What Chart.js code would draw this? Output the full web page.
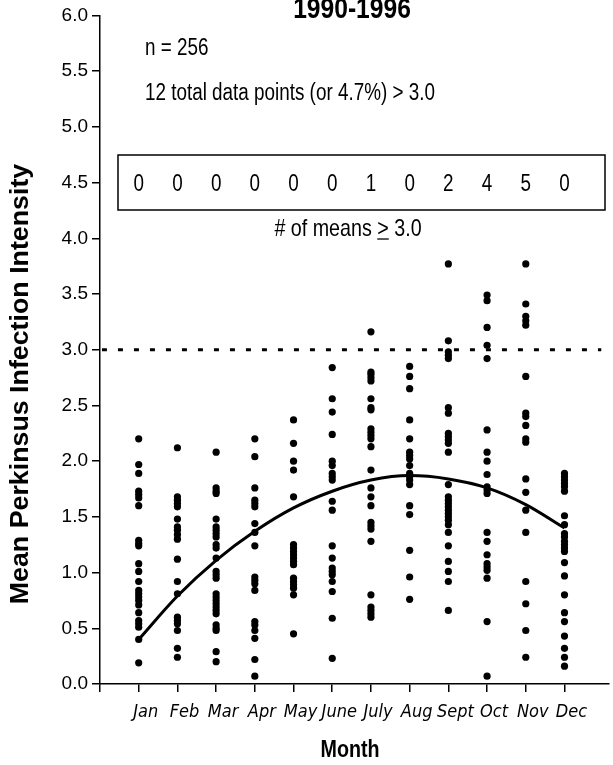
<!DOCTYPE html>
<html>
<head>
<meta charset="utf-8">
<script src="https://cdn.jsdelivr.net/npm/chart.js@4/dist/chart.umd.min.js"></script>
<style>
  html, body { margin: 0; padding: 0; background: #fff; }
  #wrap { width: 613px; height: 765px; }
</style>
</head>
<body>
<div id="wrap"><canvas id="chart" width="613" height="765"></canvas></div>
<script>
// ====== DATA ======
const months = ['Jan', 'Feb', 'Mar', 'Apr', 'May', 'June', 'July', 'Aug', 'Sept', 'Oct', 'Nov', 'Dec'];

// mean Perkinsus infection intensity, one array per month
const jan  = [2.20, 1.97, 1.89, 1.73, 1.70, 1.67, 1.60, 1.29, 1.26, 1.24, 1.08, 1.01, 0.92, 0.84, 0.81, 0.78, 0.75, 0.71, 0.64, 0.57, 0.54, 0.51, 0.40, 0.19];
const feb  = [2.12, 1.68, 1.65, 1.62, 1.59, 1.48, 1.41, 1.38, 1.34, 1.30, 1.12, 0.92, 0.81, 0.60, 0.57, 0.54, 0.48, 0.32, 0.24];
const mar  = [2.08, 1.76, 1.73, 1.71, 1.48, 1.41, 1.38, 1.35, 1.32, 1.25, 1.22, 1.13, 1.01, 0.98, 0.95, 0.81, 0.78, 0.75, 0.72, 0.69, 0.66, 0.63, 0.53, 0.50, 0.48, 0.29, 0.20];
const apr  = [2.20, 2.04, 1.76, 1.65, 1.62, 1.59, 1.44, 1.36, 1.24, 0.96, 0.93, 0.90, 0.84, 0.56, 0.53, 0.48, 0.41, 0.22, 0.07];
const may  = [2.37, 2.16, 2.00, 1.92, 1.68, 1.25, 1.22, 1.19, 1.16, 1.13, 1.10, 1.07, 0.95, 0.92, 0.89, 0.86, 0.80, 0.45];
const june = [2.84, 2.56, 2.44, 2.24, 2.00, 1.96, 1.89, 1.86, 1.83, 1.64, 1.56, 1.24, 1.13, 1.04, 1.01, 0.98, 0.92, 0.83, 0.59, 0.23];
const july = [3.16, 2.80, 2.78, 2.75, 2.72, 2.56, 2.48, 2.46, 2.29, 2.26, 2.23, 2.20, 2.13, 1.92, 1.76, 1.68, 1.60, 1.45, 1.42, 1.39, 1.28, 0.80, 0.69, 0.66, 0.63, 0.60];
const aug  = [2.85, 2.76, 2.65, 2.37, 2.20, 2.08, 2.05, 2.02, 1.96, 1.89, 1.86, 1.83, 1.79, 1.60, 1.52, 1.20, 0.96, 0.76];
const sept = [3.77, 3.08, 2.98, 2.95, 2.92, 2.48, 2.43, 2.25, 2.22, 2.19, 2.16, 2.08, 1.79, 1.68, 1.65, 1.62, 1.59, 1.56, 1.53, 1.50, 1.47, 1.43, 1.36, 1.24, 1.10, 1.01, 0.92, 0.66];
const oct  = [3.49, 3.44, 3.20, 3.04, 2.92, 2.28, 2.08, 2.00, 1.88, 1.77, 1.74, 1.71, 1.36, 1.28, 1.16, 1.08, 1.05, 1.02, 0.95, 0.56, 0.07];
const nov  = [3.77, 3.41, 3.30, 3.26, 3.22, 2.76, 2.43, 2.40, 2.32, 2.20, 2.17, 1.84, 1.72, 1.56, 1.36, 0.92, 0.72, 0.48, 0.24];
const dec  = [1.89, 1.86, 1.83, 1.80, 1.77, 1.73, 1.51, 1.43, 1.35, 1.32, 1.28, 1.25, 1.22, 1.19, 1.09, 0.97, 0.80, 0.64, 0.56, 0.43, 0.32, 0.24, 0.16];
const monthValues = [jan, feb, mar, apr, may, june, july, aug, sept, oct, nov, dec];

// fitted seasonal curve, read at each month
const fitCurve = [0.40, 0.79, 1.11, 1.37, 1.58, 1.73, 1.83, 1.87, 1.84, 1.76, 1.61, 1.40];

// # of means >= 3.0 per month (box)
const meansAbove3 = [0, 0, 0, 0, 0, 0, 1, 0, 2, 4, 5, 0];

const threshold = 3.0;
const yTicks = [0, 0.5, 1, 1.5, 2, 2.5, 3, 3.5, 4, 4.5, 5, 5.5, 6];
// ==================

const FONT = "'Liberation Sans', Arial, sans-serif";
const TICKFONT = "'DejaVu Sans Condensed', 'DejaVu Sans', sans-serif";
const NARROW = 0.82; // squeeze Liberation Sans to look like Arial Narrow

const points = [];
monthValues.forEach((vals, i) => vals.forEach(v => points.push({ x: i + 1, y: v })));
const curve = fitCurve.map((v, i) => ({ x: i + 1, y: v }));

// draw narrow text: x,y in px
function narrowText(ctx, text, x, y, font, align, sx) {
  sx = sx || NARROW;
  ctx.save();
  ctx.font = font;
  ctx.textAlign = align || 'left';
  ctx.translate(x, y);
  ctx.scale(sx, 1);
  ctx.fillText(text, 0, 0);
  ctx.restore();
}

// texts, box and titles
const annotations = {
  id: 'annotations',
  afterDraw(chart) {
    const { ctx, scales: { x, y } } = chart;
    ctx.save();
    ctx.fillStyle = '#000';
    ctx.strokeStyle = '#000';
    ctx.textBaseline = 'alphabetic';

    narrowText(ctx, '1990-1996', 352, 18, `bold 30px ${FONT}`, 'center');

    narrowText(ctx, 'n = 256', 145, 55, `23px ${FONT}`);
    narrowText(ctx, '12 total data points (or 4.7%) > 3.0', 145, 100, `23px ${FONT}`);

    // box with counts
    ctx.lineWidth = 1.5;
    ctx.strokeRect(118, 155, 605 - 118, 55);
    const ny = y.getPixelForValue(4.5) + 8;
    meansAbove3.forEach((c, i) => narrowText(ctx, String(c), x.getPixelForValue(i + 1), ny, `23px ${FONT}`, 'center'));

    // "# of means > 3.0" with underlined >
    const f = `24px ${FONT}`;
    ctx.font = f;
    const a = '# of means ', b = '>', c = ' 3.0';
    const wa = ctx.measureText(a).width * NARROW;
    const wb = ctx.measureText(b).width * NARROW;
    const wc = ctx.measureText(c).width * NARROW;
    const sx = 348 - (wa + wb + wc) / 2;
    const ty = 236;
    narrowText(ctx, a, sx, ty, f);
    narrowText(ctx, b, sx + wa, ty, f);
    narrowText(ctx, c, sx + wa + wb, ty, f);
    ctx.lineWidth = 1.3;
    ctx.beginPath();
    ctx.moveTo(sx + wa, ty + 3);
    ctx.lineTo(sx + wa + wb, ty + 3);
    ctx.stroke();

    // x title
    narrowText(ctx, 'Month', 350, 757, `bold 24px ${FONT}`, 'center');

    // y title
    ctx.translate(28, 384);
    ctx.rotate(-Math.PI / 2);
    narrowText(ctx, 'Mean Perkinsus Infection Intensity', 0, 0, `bold 26px ${FONT}`, 'center', 1.03);
    ctx.restore();
  }
};

new Chart(document.getElementById('chart'), {
  type: 'scatter',
  data: {
    datasets: [
      {
        label: 'threshold',
        type: 'line',
        data: [{ x: 0.05, y: threshold }, { x: 12.95, y: threshold }],
        borderColor: '#000',
        borderWidth: 3,
        borderDash: [5, 11],
        pointRadius: 0
      },
      {
        label: 'curve',
        type: 'line',
        data: curve,
        borderColor: '#000',
        borderWidth: 3,
        cubicInterpolationMode: 'monotone',
        pointRadius: 0
      },
      {
        label: 'intensity',
        data: points,
        backgroundColor: '#000',
        borderWidth: 0,
        pointRadius: 3.6
      }
    ]
  },
  options: {
    responsive: false,
    animation: false,
    layout: { padding: { top: 14, right: 0, bottom: 0, left: 0 } },
    plugins: { legend: { display: false }, tooltip: { enabled: false } },
    scales: {
      x: {
        type: 'linear',
        min: 0,
        max: 13.15,
        afterBuildTicks: s => { s.ticks = months.map((m, i) => ({ value: i })).concat([{ value: 12 }]); },
        afterFit: s => { s.height = 81; },
        grid: { drawOnChartArea: false, drawTicks: true, tickLength: 8, color: '#000', lineWidth: 1.5 },
        border: { color: '#000', width: 1.5 },
        ticks: {
          color: '#000',
          font: { family: TICKFONT, size: 18, style: 'italic' },
          padding: 10,
          labelOffset: 7,
          maxRotation: 0,
          autoSkip: false,
          callback: v => (v >= 1 ? months[v - 1] : '')
        }
      },
      y: {
        min: 0,
        max: 6,
        afterBuildTicks: s => { s.ticks = yTicks.map(v => ({ value: v })); },
        afterFit: s => { s.width = 100; },
        grid: { drawOnChartArea: false, drawTicks: true, tickLength: 8, color: '#000', lineWidth: 1.5 },
        border: { color: '#000', width: 1.5 },
        ticks: {
          color: '#000',
          font: { family: FONT, size: 19 },
          padding: 4,
          callback: v => v.toFixed(1)
        }
      }
    }
  },
  plugins: [annotations]
});
</script>
</body>
</html>
